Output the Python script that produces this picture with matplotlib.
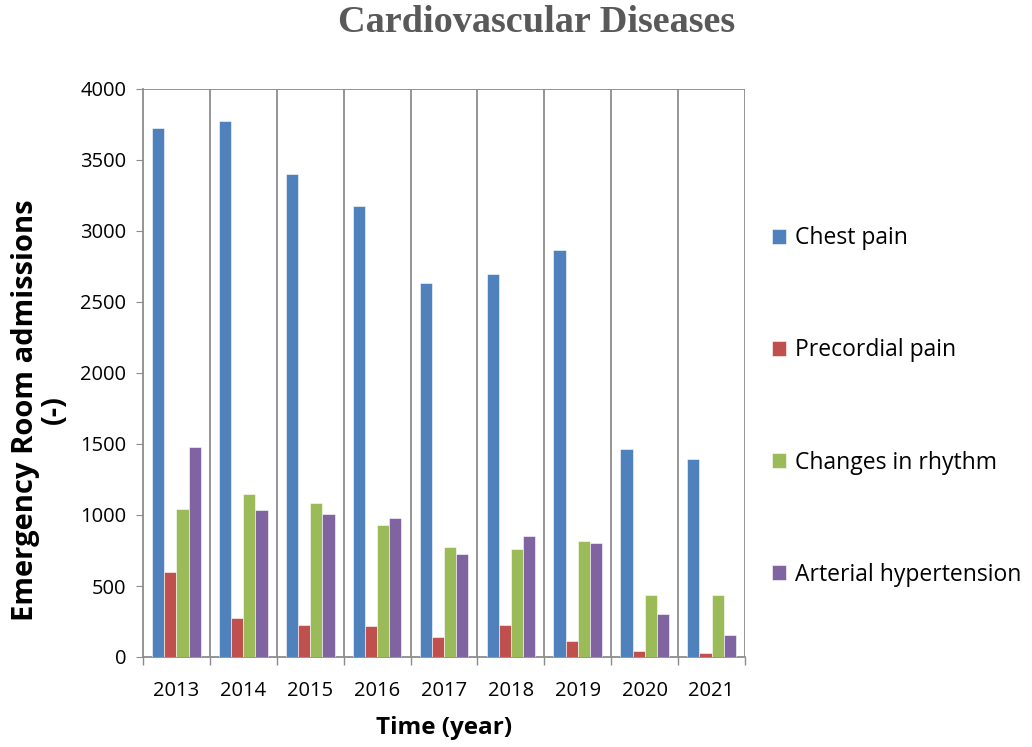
import matplotlib
matplotlib.use("Agg")
import matplotlib.pyplot as plt
import numpy as np

years = ["2013", "2014", "2015", "2016", "2017", "2018", "2019", "2020", "2021"]
chest_pain = [3728, 3776, 3401, 3177, 2631, 2698, 2868, 1462, 1393]
precordial_pain = [599, 274, 224, 221, 141, 224, 112, 45, 29]
changes_in_rhythm = [1044, 1145, 1081, 929, 775, 764, 820, 437, 437]
arterial_hypertension = [1478, 1036, 1009, 977, 724, 855, 804, 301, 157]

series = [
    ("Chest pain", chest_pain, "#4F81BD"),
    ("Precordial pain", precordial_pain, "#C0504D"),
    ("Changes in rhythm", changes_in_rhythm, "#9BBB59"),
    ("Arterial hypertension", arterial_hypertension, "#8064A2"),
]

plt.rcParams['font.family'] = ['Open Sans', 'DejaVu Sans']
fig = plt.figure(figsize=(10.32, 7.47), dpi=100)
ax = fig.add_axes([143/1032, 1 - 657/747, (745-143)/1032, (657-89)/747])

x = np.arange(len(years))
w = 1/5.5
for i, (name, vals, col) in enumerate(series):
    ax.bar(x + (i - 1.5) * w, vals, width=w, color=col, label=name,
           edgecolor="white", linewidth=0.4, zorder=3)

ax.set_xlim(-0.5, len(years) - 0.5)
ax.set_ylim(0, 4000)
ax.set_yticks(np.arange(0, 4001, 500))
ax.set_xticks(x)
ax.set_xticklabels(years)
ax.set_xticks(np.arange(-0.5, len(years), 1), minor=True)
ax.tick_params(axis='x', which='major', length=0, labelsize=14.5, pad=17)
ax.tick_params(axis='x', which='minor', length=6, color="#8c8c8c", width=1)
ax.tick_params(axis='y', length=5, color="#8c8c8c", labelsize=14.5, pad=7)
for xb in np.arange(0.5, len(years) - 0.5, 1):
    ax.axvline(xb, color="#8c8c8c", lw=1.3, zorder=1)
ax.axhline(4000, color="#8c8c8c", lw=1.3, zorder=1)
for s in ["top", "right"]:
    ax.spines[s].set_visible(False)
for s in ["left", "bottom"]:
    ax.spines[s].set_color("#8c8c8c")
    ax.spines[s].set_linewidth(1.3)
ax.axvline(len(years) - 0.5, color="#8c8c8c", lw=1.3, zorder=1)

ax.set_xlabel("Time (year)", fontsize=17.5, fontweight="bold")
ax.xaxis.set_label_coords(0.5, (657 - 728) / 568, transform=ax.transAxes)
ax.xaxis.label.set_va("center")
ax.set_ylabel("Emergency Room admissions\n(-)", fontsize=21, fontweight="bold",
              linespacing=1.0)
ax.yaxis.set_label_coords((40 - 143) / 602, 0.435)
ax.yaxis.label.set_va("center")

fig.text(537/1032, 1 - 22/747, "Cardiovascular Diseases", ha="center", va="center",
         fontsize=27.5, fontweight="bold", color="#595959", family="Liberation Serif")

leg = ax.legend(loc="center left", bbox_to_anchor=(772/1032, 1 - 406.5/747),
                bbox_transform=fig.transFigure, frameon=False,
                fontsize=16.5, labelspacing=3.85, handlelength=0.62, handleheight=0.62,
                handletextpad=0.4, borderaxespad=0, borderpad=0)

fig.savefig("out.png", dpi=100)
